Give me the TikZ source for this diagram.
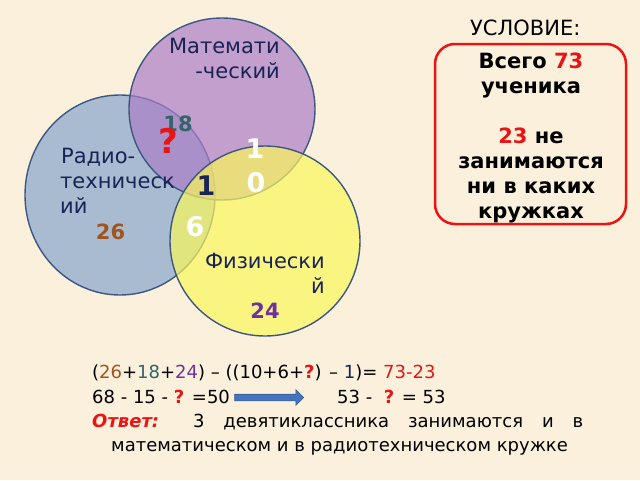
\documentclass[tikz,border=0pt]{standalone}
\usepackage{fontspec}
\setmainfont{DejaVu Sans}
\usepackage{tikz}
\usetikzlibrary{shapes.arrows}
\definecolor{bgbeige}{RGB}{250,240,220}
\definecolor{ringline}{RGB}{60,88,130}
\definecolor{mathfill}{RGB}{171,126,199}
\definecolor{radiofill}{RGB}{135,165,205}
\definecolor{physfill}{RGB}{250,247,91}
\definecolor{labelnavy}{RGB}{25,35,85}
\definecolor{numteal}{RGB}{50,100,105}
\definecolor{numbrown}{RGB}{160,85,30}
\definecolor{numpurple}{RGB}{110,50,160}
\definecolor{myred}{RGB}{235,20,20}
\definecolor{arrowblue}{RGB}{70,115,190}
\tikzset{
  ring/.style   = {draw=ringline, line width=1.4pt, fill opacity=0.7},
  lbl/.style    = {inner sep=0pt, text=labelnavy, font=\fontsize{21}{25}\selectfont},
  num/.style    = {inner sep=0pt, font=\fontsize{21}{25}\selectfont\bfseries},
  big/.style    = {inner sep=0pt, font=\fontsize{27}{30}\selectfont\bfseries},
  eq/.style     = {inner sep=0pt, anchor=base west, font=\fontsize{18}{24}\selectfont},
  condbox/.style = {draw=myred, line width=2.5pt, rounded corners=20pt}
}
\newcommand{\qm}{{\color{myred}\bfseries ?}}

\begin{document}
\begin{tikzpicture}[x=1pt,y=-1pt]
  \fill[bgbeige] (0,0) rectangle (640,480);
  \useasboundingbox (0,0) rectangle (640,480);

  % three circles
  \draw[ring, fill=radiofill] (120,195) ellipse [x radius=95, y radius=100];
  \draw[ring, fill=mathfill] (222,109) ellipse [x radius=93, y radius=91];
  \draw[ring, fill=physfill] (265,241) ellipse [x radius=95, y radius=95];

  % circle labels
  \node[lbl, anchor=base east] (math1) at (280,53) {Математи};
  \node[lbl, anchor=base east] (math2) at (280,78) {-ческий};
  \node[lbl, anchor=base west] (radio1) at (61,163) {Радио-};
  \node[lbl, anchor=base west] (radio2) at (60,188) {техническ};
  \node[lbl, anchor=base west] (radio3) at (60,213) {ий};
  \node[lbl, anchor=base east] (phys1) at (325,268) {Физически};
  \node[lbl, anchor=base east] (phys2) at (325,293) {й};

  % numbers
  \node[num, text=numteal] (n18) at (178,124) {18};
  \node[inner sep=0pt, text=myred, font=\fontsize{34}{36}\selectfont\bfseries] (nq) at (168,141) {?};
  \node[big, text=white] (n10a) at (255,149) {1};
  \node[big, text=white] (n10b) at (256,183) {0};
  \node[big, text=labelnavy] (n1) at (206,186) {1};
  \node[big, text=white] (n6) at (195,227) {6};
  \node[num, text=numbrown] (n26) at (110.5,232) {26};
  \node[num, text=numpurple] (n24) at (265,311) {24};

  % condition
  \node[inner sep=0pt, anchor=base west, font=\fontsize{21}{25}\selectfont] (cond) at (470,35) {УСЛОВИЕ:};
  \draw[condbox] (435,44) rectangle (626,224);
  \node[inner sep=0pt, anchor=north, align=center,
        font=\fontsize{21}{25}\selectfont\bfseries] (condtext) at (531,52.5)
        {Всего {\color{myred}73}\\ученика\\[25pt]{\color{myred}23} не\\занимаются\\ни в каких\\кружках};

  % solution
  \node[eq] (line1) at (92,378) {(\textcolor{numbrown}{26}+\textcolor{numteal}{18}+\textcolor{numpurple}{24}) – ((10+6+\qm) – \textcolor{labelnavy}{1})= \textcolor{myred}{73-23}};
  \node[eq] (line2) at (92,403) {68 - 15 - \qm{} =50};
  \node[single arrow, fill=arrowblue, draw=arrowblue!80!black, line width=0.6pt,
        minimum height=69pt, inner xsep=0pt, inner ysep=3pt,
        single arrow head extend=4.5pt] (arr) at (267.5,397.5) {};
  \node[eq] (line2b) at (337,403) {53 - \ \qm{} = 53};
  \node[eq] (line3) at (92,427) {\makebox[491pt][s]{{\color{myred}\bfseries\itshape Ответ:} 3 девятиклассника занимаются и в}};
  \node[eq] (line4) at (111,451) {математическом и в радиотехническом кружке};
\end{tikzpicture}
\end{document}
